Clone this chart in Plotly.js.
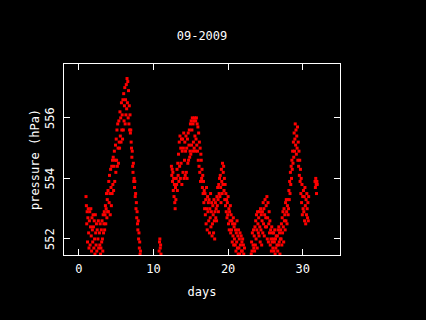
<!DOCTYPE html>
<html>
<head>
<meta charset="utf-8">
<script src="https://cdn.plot.ly/plotly-3.0.1.min.js"></script>
<style>html,body{margin:0;padding:0;background:#000;}#chart{width:426px;height:320px;}</style>
</head>
<body>
<div id="chart"></div>
<script>
// Sampling grid of the pressure record (days of month), sample interval in days
const sampleStepDays = 0.05;
const segmentStartDays = [0.95, 10.75, 12.40, 23.10, 31.65];

// Pressure readings (hPa), one array per continuous stretch of record
const pressureSeg1 = [
  553.4, 553.1, 552.5, 552.9, 551.9, 552.7, 553.0, 552.2, 551.7, 552.6,
  552.9, 551.8, 552.4, 553.0, 552.1, 551.6, 552.7, 552.3, 551.9, 552.8,
  552.4, 551.7, 552.6, 552.0, 551.5, 552.8, 552.2, 551.8, 552.5, 551.6,
  552.3, 551.4, 552.0, 552.6, 551.7, 551.3, 552.2, 551.8, 552.5, 551.5,
  551.7, 552.3, 551.9, 552.6, 552.0, 551.6, 552.8, 552.2, 552.5, 552.9,
  552.3, 552.8, 553.1, 552.5, 553.0, 553.5, 552.7, 553.3, 552.9, 553.6,
  552.9, 553.9, 553.2, 554.1, 553.5, 552.8, 554.3, 553.7, 553.1, 554.4,
  553.5, 554.6, 553.8, 554.7, 553.6, 554.4, 554.9, 553.9, 554.6, 555.1,
  554.2, 555.3, 554.6, 555.6, 554.4, 555.8, 555.0, 554.5, 555.9, 555.2,
  555.0, 556.2, 555.4, 556.0, 555.2, 556.5, 555.6, 556.1, 555.3, 556.6,
  555.6, 556.8, 555.9, 556.4, 557.0, 555.8, 556.6, 556.1, 557.1, 556.3,
  557.3, 556.5, 557.2, 556.0, 556.9, 555.8, 556.4, 555.6, 556.1, 555.5,
  555.6, 555.2, 555.0, 554.7, 554.9, 554.4, 554.2, 554.5, 553.9, 554.0,
  553.7, 553.9, 553.4, 553.5, 553.0, 553.2, 552.7, 552.9, 552.5, 552.3,
  552.6, 552.0, 552.2, 551.7, 551.9, 551.5, 551.6, 551.3, 551.1, 550.9
];
const pressureSeg2 = [551.6, 551.9, 552.0, 551.7, 551.8, 551.5];
const pressureSeg3 = [
  554.4, 554.1, 554.3, 553.9, 554.2, 553.6, 554.0, 553.4, 553.8, 553.2,
  553.0, 553.7, 553.3, 554.0, 553.8, 554.3, 553.6, 554.5, 554.1, 554.8,
  553.9, 555.2, 554.4, 555.4, 554.0, 555.0, 554.5, 555.3, 553.8, 554.9,
  555.3, 554.2, 555.0, 555.5, 554.0, 554.6, 555.2, 554.1, 554.9, 555.4,
  554.2, 555.0, 554.0, 555.3, 554.5, 555.5, 554.6, 555.1, 555.6, 554.7,
  554.9, 555.8, 554.8, 555.9, 555.1, 555.6, 556.0, 554.9, 555.8, 555.2,
  555.9, 555.0, 556.0, 555.4, 554.9, 555.9, 555.3, 556.0, 555.1, 555.8,
  554.9, 555.7, 554.6, 555.5, 554.4, 555.2, 554.2, 555.0, 553.9, 554.8,
  554.6, 554.0, 554.3, 553.7, 554.1, 553.5, 553.9, 553.2, 553.6, 553.0,
  553.5, 552.8, 553.3, 552.5, 553.7, 553.0, 552.3, 553.4, 552.9, 553.2,
  552.6, 553.3, 552.2, 553.0, 552.7, 553.5, 552.4, 552.9, 553.2, 552.1,
  552.5, 553.1, 552.8, 552.2, 553.3, 552.6, 552.0, 552.9, 553.2, 552.7,
  553.0, 552.6, 553.4, 553.1, 553.7, 553.3, 552.9, 553.8, 553.5, 554.0,
  553.4, 554.1, 553.7, 553.2, 554.3, 553.9, 553.5, 554.5, 553.8, 554.2,
  554.4, 553.6, 554.0, 553.3, 553.8, 553.1, 553.5, 552.9, 553.3, 552.7,
  553.2, 552.8, 553.4, 552.5, 553.0, 552.3, 552.9, 552.6, 553.1, 552.2,
  552.8, 552.3, 552.6, 551.9, 552.5, 552.1, 552.7, 551.8, 552.4, 552.0,
  552.5, 551.8, 552.3, 551.6, 552.2, 551.9, 552.6, 551.7, 552.1, 551.5,
  552.3, 551.7, 552.0, 551.5, 552.2, 551.8, 551.4, 552.1, 551.6, 551.9,
  551.6, 552.0, 551.4, 551.8, 551.5, 551.3, 551.7, 551.2, 551.4, 551.0
];
const pressureSeg4 = [
  551.5, 551.9, 551.6, 552.2, 551.4, 551.8, 552.3, 551.7, 552.1, 551.6,
  552.4, 551.8, 552.6, 552.0, 552.8, 552.3, 551.7, 552.9, 552.5, 552.2,
  552.7, 552.1, 552.9, 552.4, 551.9, 553.0, 552.3, 552.8, 551.8, 552.6,
  552.9, 552.2, 553.2, 552.5, 553.0, 552.1, 552.8, 553.3, 552.4, 552.7,
  553.1, 552.4, 553.4, 552.0, 552.7, 553.2, 551.9, 552.5, 552.9, 552.2,
  552.6, 551.8, 552.3, 552.0, 551.6, 552.4, 551.9, 552.2, 551.7, 552.0,
  552.2, 551.6, 551.9, 552.3, 551.5, 552.0, 551.7, 552.1, 551.4, 551.8,
  552.1, 551.6, 552.3, 551.8, 552.4, 551.9, 552.2, 551.5, 552.0, 552.3,
  552.0, 552.5, 551.8, 552.7, 552.2, 552.9, 552.4, 551.9, 553.0, 552.6,
  552.8, 552.3, 553.2, 552.6, 553.3, 552.9, 552.5, 553.1, 553.3, 552.8,
  553.0, 553.6, 553.3, 553.9, 553.5, 554.2, 553.8, 554.4, 554.0, 554.6,
  554.3, 554.9, 554.5, 555.2, 554.7, 555.5, 554.9, 555.3, 555.8, 555.1,
  555.6, 554.8, 555.4, 555.0, 555.7, 554.6, 555.2, 554.4, 554.9, 554.1,
  554.6, 553.9, 554.3, 553.5, 554.0, 553.2, 553.8, 552.8, 553.4, 553.0,
  553.6, 552.9, 553.4, 552.6, 553.7, 553.1, 552.5, 553.3, 552.8, 553.5,
  553.0, 552.7, 553.2, 552.6, 553.4
];
const pressureSeg5 = [553.9, 553.7, 554.0, 553.8, 553.5, 553.9, 553.8];

const yTickValues = [552, 554, 556];
const yTickLabels = ['552', '554', '556'];
const xTickValues = [0, 10, 20, 30];
const xTickLabels = ['0', '10', '20', '30'];

const segments = [pressureSeg1, pressureSeg2, pressureSeg3, pressureSeg4, pressureSeg5];

const days = [];
const pressure = [];
segments.forEach((seg, k) => {
  seg.forEach((p, i) => {
    days.push(+(segmentStartDays[k] + i * sampleStepDays).toFixed(3));
    pressure.push(p);
  });
});

const fontFamily = '"DejaVu Sans Mono", "Liberation Mono", monospace';
const txtFont = {family: fontFamily, color: '#ffffff', size: 12};

const trace = {
  x: days,
  y: pressure,
  type: 'scatter',
  mode: 'markers',
  marker: {color: '#ff0000', size: 3, symbol: 'square', line: {width: 0}},
  cliponaxis: true,
  hoverinfo: 'skip'
};

// Vertical (rotated) y tick labels, anchored to the y axis values
const yTickAnnotations = yTickValues.map((v, i) => ({
  x: 0, xref: 'paper', xanchor: 'right', xshift: -5,
  y: v, yref: 'y', yanchor: 'middle',
  text: yTickLabels[i], textangle: -90, showarrow: false, font: txtFont
}));

const layout = {
  width: 426,
  height: 320,
  paper_bgcolor: '#000000',
  plot_bgcolor: '#000000',
  margin: {l: 64, r: 86, t: 64, b: 65, pad: 0},
  showlegend: false,
  font: txtFont,
  title: {
    text: '09-2009',
    font: txtFont,
    x: 0.5, xref: 'paper', xanchor: 'center',
    y: 1 - 36 / 320, yref: 'container', yanchor: 'middle'
  },
  annotations: yTickAnnotations,
  xaxis: {
    range: [-2, 35],
    tickvals: xTickValues,
    ticktext: xTickLabels,
    ticks: 'inside',
    ticklen: 6,
    tickwidth: 1,
    tickcolor: '#ffffff',
    showline: true,
    linecolor: '#ffffff',
    linewidth: 1,
    mirror: 'ticks',
    showgrid: false,
    zeroline: false,
    ticklabelstandoff: 3,
    tickfont: txtFont,
    title: {text: 'days', font: txtFont, standoff: 12}
  },
  yaxis: {
    range: [551.47, 557.78],
    tickvals: yTickValues,
    showticklabels: false,
    ticks: 'inside',
    ticklen: 6,
    tickwidth: 1,
    tickcolor: '#ffffff',
    showline: true,
    linecolor: '#ffffff',
    linewidth: 1,
    mirror: 'ticks',
    showgrid: false,
    zeroline: false,
    title: {text: 'pressure (hPa)', font: txtFont, standoff: 20}
  }
};

Plotly.newPlot('chart', [trace], layout, {staticPlot: true, displayModeBar: false});
</script>
</body>
</html>
